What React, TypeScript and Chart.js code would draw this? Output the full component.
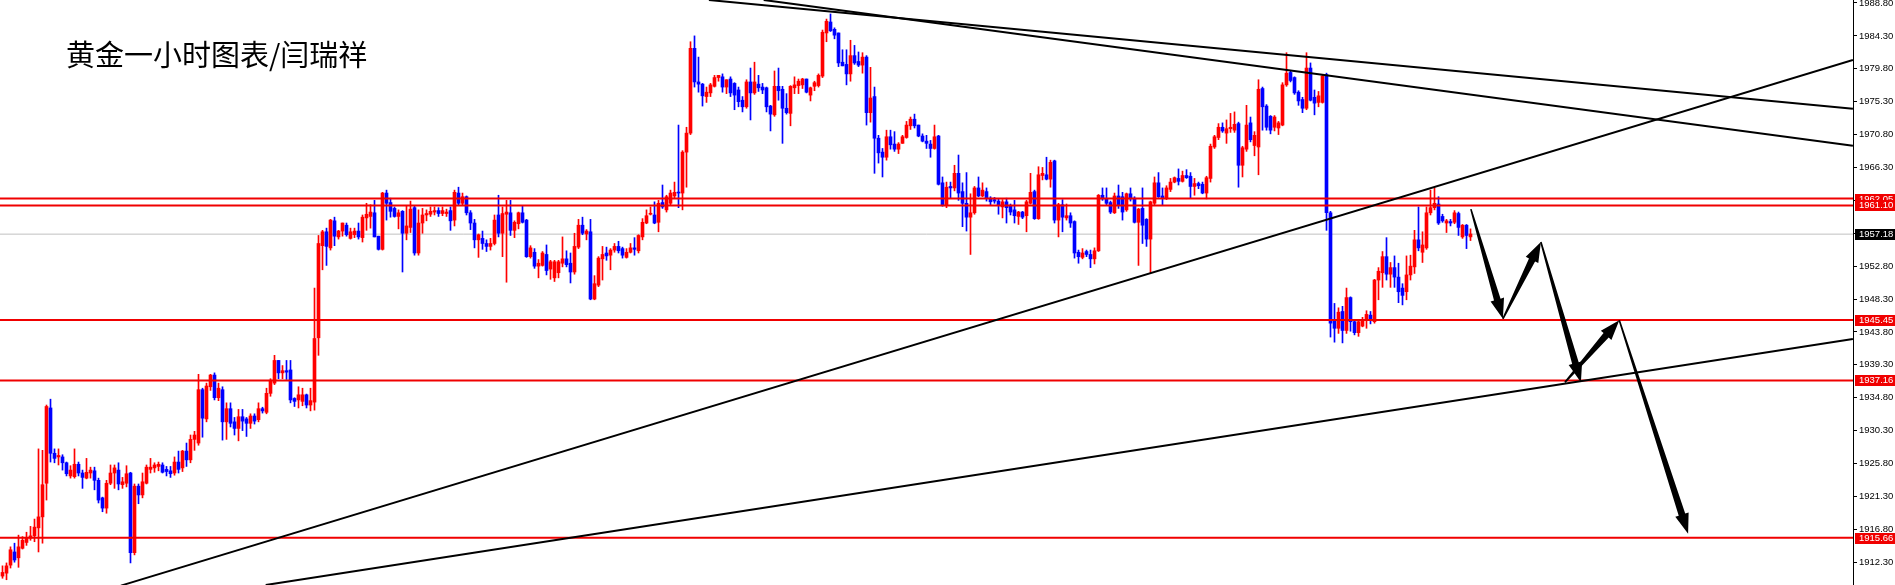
import React, { useEffect, useRef } from 'react';
import { Chart, registerables } from 'chart.js';

Chart.register(...registerables);

// Hourly XAUUSD candles (one entry per hour, oldest first)
const opens = [
  1910.4, 1910.8, 1911.9, 1913.7, 1912.9, 1914.2, 1915.0, 1915.6, 1915.9, 1917.0,
  1918.5, 1923.1, 1933.4, 1927.2, 1926.7, 1926.7, 1925.9, 1924.1, 1924.0, 1925.7,
  1924.5, 1923.8, 1924.5, 1924.8, 1923.5, 1921.1, 1919.7, 1923.1, 1924.5, 1924.9,
  1922.9, 1923.1, 1924.5, 1913.6, 1922.7, 1921.5, 1923.1, 1925.0, 1925.2, 1925.4,
  1925.6, 1925.0, 1924.8, 1924.5, 1926.0, 1925.2, 1927.5, 1926.3, 1929.1, 1928.6,
  1935.9, 1931.9, 1936.3, 1937.9, 1934.8, 1935.9, 1931.5, 1933.3, 1931.5, 1930.6,
  1932.2, 1931.9, 1931.3, 1932.3, 1931.8, 1933.3, 1932.8, 1935.4, 1936.8, 1939.9,
  1938.2, 1938.5, 1938.6, 1934.7, 1934.5, 1934.3, 1935.2, 1933.8, 1934.2, 1943.0,
  1955.6, 1957.5, 1955.3, 1959.0, 1956.8, 1957.6, 1958.4, 1956.6, 1957.1, 1957.6,
  1956.7, 1959.4, 1959.6, 1960.1, 1956.9, 1955.1, 1962.8, 1961.5, 1960.7, 1959.6,
  1960.3, 1957.3, 1958.1, 1960.8, 1954.6, 1958.7, 1959.8, 1959.9, 1960.2, 1960.4,
  1960.0, 1960.0, 1960.4, 1959.1, 1962.8, 1961.4, 1962.3, 1960.1, 1958.7, 1956.4,
  1956.6, 1955.9, 1955.5, 1955.9, 1959.8, 1957.3, 1959.9, 1960.1, 1957.7, 1958.6,
  1960.1, 1959.1, 1954.1, 1954.7, 1952.8, 1952.9, 1954.4, 1952.4, 1951.2, 1951.9,
  1953.2, 1953.8, 1953.2, 1952.0, 1955.4, 1958.4, 1957.2, 1957.5, 1948.3, 1950.2,
  1953.8, 1954.6, 1954.3, 1955.0, 1955.5, 1955.2, 1954.0, 1954.7, 1955.3, 1954.9,
  1956.8, 1958.7, 1959.9, 1959.8, 1958.8, 1961.5, 1960.5, 1961.4, 1962.4, 1962.9,
  1962.8, 1968.4, 1971.0, 1982.6, 1978.0, 1977.7, 1976.0, 1976.5, 1977.4, 1978.6,
  1978.7, 1977.3, 1978.4, 1977.8, 1976.9, 1975.5, 1974.6, 1978.0, 1976.5, 1977.7,
  1977.3, 1977.2, 1974.7, 1973.5, 1977.4, 1977.0, 1974.4, 1973.7, 1977.2, 1977.5,
  1977.6, 1978.4, 1976.2, 1977.4, 1977.5, 1978.8, 1984.7, 1986.2, 1985.2, 1984.7,
  1980.7, 1980.4, 1979.1, 1981.6, 1980.8, 1980.3, 1981.4, 1973.8, 1976.0, 1970.3,
  1968.4, 1967.7, 1970.5, 1969.5, 1968.8, 1969.6, 1970.4, 1972.0, 1972.9, 1972.1,
  1970.6, 1969.9, 1969.5, 1968.9, 1970.6, 1964.2, 1961.2, 1963.7, 1963.5, 1965.5,
  1963.0, 1961.4, 1959.5, 1960.1, 1963.5, 1962.4, 1963.0, 1962.1, 1961.9, 1961.7,
  1960.9, 1961.6, 1961.0, 1960.5, 1959.6, 1960.2, 1959.7, 1961.4, 1963.0, 1959.3,
  1965.2, 1965.3, 1964.7, 1967.2, 1959.1, 1961.2, 1959.4, 1959.7, 1958.9, 1954.7,
  1954.0, 1954.8, 1954.4, 1953.8, 1954.9, 1962.5, 1962.0, 1961.5, 1960.1, 1962.4,
  1962.3, 1960.5, 1962.7, 1962.1, 1958.8, 1960.7, 1959.2, 1956.5, 1961.4, 1964.2,
  1962.4, 1962.1, 1963.3, 1964.3, 1964.8, 1964.4, 1965.2, 1965.1, 1963.7, 1964.1,
  1964.0, 1962.8, 1964.8, 1969.1, 1970.4, 1971.8, 1971.0, 1971.6, 1971.4, 1972.3,
  1966.6, 1968.8, 1972.4, 1969.3, 1969.1, 1977.1, 1974.7, 1973.3, 1971.8, 1971.7,
  1972.1, 1977.6, 1979.3, 1978.6, 1976.6, 1975.6, 1974.4, 1979.9, 1975.9, 1975.2,
  1975.2, 1979.0, 1960.1, 1945.4, 1944.3, 1946.6, 1944.0, 1948.5, 1945.2, 1943.7,
  1944.6, 1945.4, 1946.1, 1945.2, 1950.9, 1951.9, 1954.1, 1951.7, 1952.6, 1951.3,
  1949.8, 1949.3, 1951.6, 1952.7, 1956.4, 1954.7, 1955.3, 1960.1, 1960.8, 1961.3,
  1959.6, 1958.7, 1958.9, 1958.8, 1960.0, 1956.8, 1958.4, 1956.8,
];

const highs = [
  1911.8, 1912.2, 1914.4, 1914.9, 1916.0, 1915.8, 1916.4, 1917.2, 1918.2, 1927.8,
  1927.6, 1933.8, 1934.6, 1927.8, 1927.8, 1927.0, 1926.0, 1925.5, 1927.8, 1926.0,
  1924.9, 1926.5, 1925.3, 1925.3, 1923.8, 1921.2, 1923.5, 1925.6, 1925.6, 1925.9,
  1923.9, 1925.5, 1924.6, 1923.0, 1923.0, 1924.5, 1925.6, 1926.5, 1925.9, 1926.0,
  1925.9, 1925.4, 1925.4, 1926.7, 1927.5, 1927.6, 1928.6, 1929.7, 1930.2, 1938.0,
  1936.1, 1936.8, 1938.0, 1938.2, 1936.8, 1936.3, 1934.1, 1934.1, 1932.1, 1933.2,
  1933.2, 1932.1, 1932.6, 1932.6, 1934.1, 1933.5, 1936.1, 1937.4, 1940.6, 1939.9,
  1939.2, 1939.9, 1939.9, 1934.8, 1936.3, 1936.1, 1935.3, 1936.1, 1949.8, 1957.0,
  1957.7, 1958.0, 1959.2, 1959.5, 1957.7, 1958.7, 1958.7, 1958.0, 1958.0, 1958.7,
  1959.8, 1961.4, 1961.2, 1961.8, 1956.9, 1962.9, 1963.2, 1962.1, 1960.9, 1960.5,
  1960.4, 1961.1, 1961.7, 1961.0, 1960.5, 1960.7, 1960.5, 1960.9, 1960.9, 1960.8,
  1960.9, 1960.6, 1960.9, 1963.2, 1963.6, 1962.8, 1962.4, 1960.4, 1959.2, 1957.2,
  1957.6, 1956.4, 1956.6, 1959.8, 1962.5, 1960.9, 1961.8, 1961.8, 1959.0, 1960.2,
  1961.0, 1959.2, 1955.6, 1955.2, 1953.7, 1954.8, 1955.7, 1953.6, 1953.6, 1953.6,
  1956.8, 1954.9, 1954.6, 1957.3, 1959.2, 1959.5, 1957.8, 1959.2, 1951.5, 1954.1,
  1955.5, 1955.4, 1955.2, 1955.9, 1956.2, 1955.4, 1955.2, 1955.9, 1956.7, 1957.1,
  1959.3, 1960.5, 1960.9, 1961.6, 1961.8, 1963.9, 1962.5, 1963.2, 1964.3, 1972.1,
  1968.6, 1971.8, 1983.5, 1984.3, 1981.4, 1977.8, 1977.3, 1977.8, 1978.9, 1978.9,
  1979.1, 1978.3, 1978.7, 1977.9, 1977.3, 1976.0, 1978.3, 1979.9, 1980.7, 1978.9,
  1977.8, 1977.3, 1974.8, 1979.5, 1979.9, 1977.4, 1976.4, 1977.5, 1978.7, 1978.4,
  1978.5, 1978.4, 1977.3, 1978.1, 1979.1, 1985.1, 1986.6, 1987.3, 1985.4, 1984.7,
  1982.4, 1982.4, 1983.7, 1983.0, 1982.1, 1982.0, 1981.6, 1980.0, 1977.3, 1970.7,
  1968.9, 1971.4, 1971.4, 1971.2, 1969.7, 1970.7, 1972.6, 1973.2, 1973.6, 1972.1,
  1970.9, 1970.7, 1970.0, 1972.1, 1970.7, 1965.0, 1964.3, 1964.3, 1966.6, 1968.0,
  1964.2, 1965.6, 1962.7, 1963.7, 1965.0, 1964.2, 1963.5, 1962.3, 1962.2, 1962.0,
  1961.9, 1962.1, 1961.3, 1961.8, 1960.3, 1960.3, 1961.8, 1965.5, 1963.2, 1966.4,
  1966.3, 1967.7, 1967.3, 1967.3, 1961.4, 1961.9, 1961.3, 1960.1, 1959.0, 1955.0,
  1955.2, 1955.0, 1955.0, 1955.3, 1962.6, 1963.5, 1963.5, 1961.7, 1962.8, 1963.9,
  1962.9, 1962.8, 1963.5, 1962.3, 1960.7, 1963.5, 1959.3, 1961.7, 1965.0, 1965.6,
  1963.5, 1963.8, 1964.8, 1965.0, 1966.1, 1965.8, 1966.0, 1965.6, 1964.8, 1964.3,
  1964.3, 1965.1, 1969.5, 1970.7, 1972.3, 1972.4, 1972.8, 1973.7, 1973.9, 1972.5,
  1969.2, 1974.8, 1973.2, 1971.2, 1978.3, 1977.3, 1974.9, 1973.4, 1973.4, 1972.6,
  1977.9, 1982.0, 1979.5, 1978.7, 1976.8, 1975.9, 1982.0, 1980.6, 1976.9, 1976.7,
  1979.0, 1979.2, 1960.3, 1947.7, 1947.1, 1947.3, 1949.8, 1948.6, 1945.3, 1945.3,
  1945.8, 1946.7, 1946.6, 1951.0, 1952.6, 1954.8, 1956.7, 1953.3, 1954.2, 1953.2,
  1950.4, 1954.2, 1954.3, 1957.7, 1960.9, 1957.5, 1960.9, 1963.2, 1963.5, 1962.3,
  1959.9, 1959.2, 1959.2, 1960.4, 1960.2, 1958.5, 1958.5, 1957.9,
];

const lows = [
  1910.1, 1909.9, 1911.5, 1912.3, 1911.6, 1914.1, 1914.6, 1915.3, 1915.1, 1913.7,
  1914.9, 1920.8, 1926.0, 1925.9, 1925.6, 1924.9, 1924.1, 1923.8, 1923.8, 1924.1,
  1922.4, 1923.7, 1923.8, 1922.2, 1920.4, 1919.2, 1919.0, 1922.9, 1922.4, 1922.2,
  1922.4, 1922.6, 1912.2, 1913.3, 1920.3, 1921.1, 1923.0, 1924.5, 1924.6, 1924.8,
  1924.5, 1924.1, 1923.9, 1924.2, 1924.5, 1924.7, 1925.4, 1925.9, 1927.6, 1928.3,
  1929.4, 1931.5, 1935.8, 1934.5, 1934.4, 1929.0, 1929.1, 1930.8, 1929.7, 1928.9,
  1930.3, 1929.5, 1930.6, 1931.2, 1931.5, 1932.7, 1932.6, 1935.0, 1936.6, 1937.4,
  1937.4, 1937.3, 1934.1, 1933.6, 1933.4, 1933.7, 1933.4, 1933.0, 1933.1, 1940.6,
  1952.3, 1952.9, 1955.0, 1955.6, 1956.5, 1956.9, 1956.9, 1956.5, 1956.7, 1956.5,
  1956.1, 1957.7, 1958.0, 1956.8, 1955.0, 1955.0, 1959.1, 1959.5, 1959.5, 1957.9,
  1952.0, 1956.4, 1957.4, 1954.3, 1954.3, 1957.3, 1959.0, 1959.6, 1959.8, 1959.6,
  1959.7, 1959.6, 1957.7, 1958.3, 1961.2, 1961.2, 1959.8, 1957.8, 1955.3, 1954.0,
  1955.1, 1954.8, 1955.0, 1955.7, 1956.8, 1954.1, 1950.6, 1957.0, 1956.7, 1957.9,
  1958.7, 1954.0, 1953.9, 1952.5, 1951.2, 1952.8, 1951.6, 1951.0, 1950.7, 1951.2,
  1952.7, 1952.7, 1950.5, 1951.7, 1955.2, 1957.1, 1956.4, 1948.2, 1948.2, 1950.0,
  1950.9, 1953.6, 1952.3, 1954.7, 1954.6, 1953.9, 1953.9, 1954.6, 1954.3, 1954.6,
  1956.4, 1958.6, 1959.8, 1958.6, 1957.5, 1960.7, 1960.2, 1961.2, 1962.1, 1960.8,
  1960.5, 1963.6, 1970.8, 1977.3, 1976.6, 1974.7, 1975.2, 1976.0, 1977.3, 1978.1,
  1976.6, 1976.4, 1976.0, 1974.2, 1974.6, 1973.9, 1974.4, 1972.8, 1976.3, 1976.7,
  1976.4, 1973.9, 1971.3, 1973.3, 1975.5, 1969.6, 1973.6, 1972.0, 1976.4, 1976.4,
  1977.1, 1976.5, 1975.4, 1976.8, 1977.3, 1978.6, 1983.5, 1984.9, 1983.9, 1980.1,
  1980.2, 1977.6, 1978.1, 1980.4, 1980.1, 1979.2, 1972.1, 1972.5, 1965.5, 1966.9,
  1965.0, 1967.3, 1968.8, 1968.5, 1968.2, 1969.6, 1970.3, 1971.5, 1971.7, 1970.5,
  1969.8, 1968.9, 1967.7, 1968.8, 1963.9, 1961.0, 1960.8, 1962.1, 1963.1, 1961.8,
  1958.2, 1957.6, 1954.4, 1959.9, 1962.3, 1962.3, 1961.7, 1961.2, 1961.4, 1959.9,
  1959.4, 1958.7, 1959.8, 1958.7, 1958.5, 1959.3, 1957.5, 1961.3, 1959.2, 1959.2,
  1964.6, 1964.6, 1963.6, 1958.7, 1956.8, 1957.5, 1959.1, 1958.1, 1953.9, 1953.2,
  1953.8, 1954.1, 1952.6, 1953.1, 1954.8, 1961.8, 1961.1, 1960.0, 1960.0, 1960.7,
  1959.1, 1960.3, 1961.7, 1958.7, 1952.9, 1955.9, 1955.5, 1951.9, 1961.2, 1962.2,
  1961.2, 1961.9, 1963.0, 1964.2, 1963.9, 1964.3, 1964.8, 1962.1, 1962.5, 1963.4,
  1962.7, 1962.0, 1964.3, 1968.9, 1970.1, 1971.1, 1969.6, 1971.1, 1971.1, 1963.6,
  1965.0, 1968.5, 1969.8, 1967.9, 1965.3, 1971.4, 1971.4, 1970.9, 1971.3, 1970.8,
  1972.0, 1977.4, 1978.0, 1976.3, 1974.8, 1973.8, 1974.2, 1975.4, 1973.5, 1974.6,
  1975.1, 1957.7, 1943.1, 1942.4, 1943.6, 1942.3, 1943.6, 1943.9, 1943.4, 1943.2,
  1944.5, 1944.3, 1944.9, 1945.0, 1948.2, 1949.9, 1950.9, 1949.9, 1949.9, 1947.8,
  1947.5, 1948.2, 1950.9, 1951.8, 1954.9, 1953.3, 1955.1, 1959.8, 1960.5, 1958.5,
  1958.8, 1957.4, 1958.3, 1958.6, 1957.0, 1956.6, 1955.2, 1956.3,
];

const closes = [
  1910.9, 1911.8, 1914.0, 1912.6, 1914.4, 1915.3, 1915.7, 1915.9, 1917.1, 1918.5,
  1922.9, 1933.6, 1927.2, 1926.5, 1926.9, 1925.9, 1924.4, 1924.9, 1925.7, 1924.5,
  1923.9, 1924.6, 1924.9, 1923.5, 1920.8, 1919.7, 1923.1, 1924.5, 1925.2, 1923.0,
  1923.3, 1924.4, 1913.6, 1922.7, 1921.5, 1923.3, 1925.3, 1925.3, 1925.6, 1925.7,
  1924.6, 1924.7, 1924.4, 1926.0, 1925.0, 1927.5, 1926.3, 1929.1, 1929.7, 1935.9,
  1932.0, 1936.4, 1937.9, 1934.8, 1936.1, 1931.5, 1933.3, 1931.3, 1930.6, 1932.2,
  1931.6, 1931.3, 1932.3, 1931.6, 1933.3, 1933.0, 1935.4, 1937.2, 1939.9, 1938.2,
  1938.5, 1938.3, 1934.5, 1934.3, 1935.2, 1935.2, 1933.8, 1934.4, 1942.9, 1955.9,
  1957.5, 1955.5, 1959.1, 1956.9, 1957.6, 1958.7, 1957.1, 1957.5, 1957.6, 1956.8,
  1959.5, 1959.9, 1960.2, 1956.8, 1955.1, 1962.8, 1961.4, 1960.3, 1959.6, 1960.1,
  1957.3, 1958.3, 1960.6, 1954.6, 1958.7, 1959.8, 1960.0, 1960.3, 1960.4, 1960.0,
  1960.4, 1960.2, 1959.0, 1962.9, 1961.4, 1962.3, 1960.1, 1958.7, 1956.4, 1957.1,
  1955.9, 1955.5, 1955.9, 1959.1, 1957.3, 1960.0, 1960.2, 1957.7, 1958.8, 1960.1,
  1958.8, 1954.1, 1955.3, 1952.8, 1953.2, 1954.6, 1952.2, 1953.4, 1953.4, 1953.4,
  1953.8, 1953.0, 1952.0, 1955.5, 1958.4, 1957.3, 1957.6, 1948.3, 1950.4, 1953.9,
  1954.4, 1954.2, 1955.0, 1955.5, 1954.9, 1954.3, 1954.7, 1955.3, 1955.1, 1957.0,
  1958.8, 1959.7, 1960.0, 1958.7, 1961.4, 1960.9, 1962.3, 1962.8, 1962.9, 1962.8,
  1968.4, 1971.0, 1982.6, 1978.0, 1977.7, 1976.1, 1976.6, 1977.6, 1978.6, 1978.9,
  1977.3, 1978.3, 1976.5, 1976.2, 1975.3, 1974.6, 1978.0, 1976.5, 1978.0, 1977.2,
  1976.9, 1974.6, 1973.6, 1977.4, 1976.8, 1974.4, 1973.8, 1977.4, 1977.6, 1978.1,
  1978.4, 1976.6, 1977.2, 1977.9, 1978.9, 1984.8, 1986.3, 1985.0, 1984.4, 1980.6,
  1980.2, 1979.1, 1981.6, 1980.6, 1980.3, 1981.4, 1973.8, 1975.8, 1970.3, 1968.3,
  1967.7, 1970.5, 1969.4, 1968.8, 1969.5, 1970.5, 1972.1, 1972.9, 1972.0, 1970.6,
  1969.9, 1969.6, 1968.9, 1970.5, 1964.0, 1961.2, 1963.6, 1963.5, 1965.5, 1962.8,
  1961.4, 1959.5, 1960.1, 1963.5, 1962.4, 1963.2, 1962.1, 1961.6, 1961.7, 1961.1,
  1961.6, 1960.8, 1960.2, 1959.7, 1960.2, 1959.5, 1961.6, 1962.9, 1959.3, 1965.3,
  1965.5, 1964.7, 1967.0, 1959.1, 1961.2, 1959.5, 1959.7, 1958.7, 1954.6, 1954.1,
  1954.6, 1954.4, 1953.8, 1954.9, 1962.5, 1962.0, 1961.4, 1960.2, 1962.4, 1961.2,
  1960.2, 1962.7, 1962.0, 1958.8, 1960.6, 1958.4, 1956.5, 1961.6, 1964.2, 1962.3,
  1962.1, 1963.5, 1964.3, 1964.9, 1964.4, 1965.2, 1964.9, 1963.7, 1964.1, 1963.8,
  1962.8, 1964.9, 1969.2, 1970.5, 1971.8, 1971.3, 1971.6, 1971.8, 1972.2, 1966.6,
  1969.0, 1972.1, 1970.1, 1970.7, 1977.0, 1974.6, 1971.8, 1971.4, 1973.2, 1972.4,
  1977.6, 1979.2, 1978.2, 1976.5, 1975.4, 1974.4, 1979.9, 1975.5, 1975.1, 1976.1,
  1978.8, 1960.1, 1945.0, 1944.3, 1946.5, 1944.0, 1948.5, 1945.2, 1943.7, 1945.2,
  1945.3, 1946.2, 1945.4, 1950.9, 1952.1, 1954.1, 1951.7, 1952.6, 1951.3, 1949.3,
  1948.8, 1951.6, 1952.8, 1956.4, 1955.3, 1955.7, 1960.1, 1960.8, 1961.4, 1958.7,
  1959.0, 1959.0, 1958.7, 1960.1, 1958.1, 1958.4, 1957.0, 1957.2,
];

// Price axis labels
const priceTicks = [
  1988.8, 1984.3, 1979.8, 1975.3, 1970.8, 1966.3, 1961.8, 1957.3, 1952.8,
  1948.3, 1943.8, 1939.3, 1934.8, 1930.3, 1925.8, 1921.3, 1916.8, 1912.3,
];

// Horizontal support / resistance levels
const levelPrices = [1962.05, 1961.1, 1945.45, 1937.16, 1915.66];
const bidPrice = 1957.18;

// Trend lines: start bar, start price, end bar, end price
const trendStartBar = [176.6, 190.3, 29.6, 65.8];
const trendStartPrice = [1989.21, 1989.21, 1909.1, 1909.18];
const trendEndBar = [462.6, 462.6, 462.6, 462.6];
const trendEndPrice = [1974.34, 1969.28, 1981.0, 1942.83];

// Projected path arrows (bar index / price)
const arrowFromBar = [367.1, 375.1, 384.6, 390.6, 404.2];
const arrowFromPrice = [1960.6, 1945.6, 1956.1, 1936.9, 1945.4];
const arrowToBar = [375.1, 384.6, 394.6, 404.2, 421.4];
const arrowToPrice = [1945.6, 1956.1, 1936.9, 1945.4, 1916.2];

const TITLE = '黄金一小时图表/闫瑞祥';

const UP = '#ff0000';
const DOWN = '#0000ff';
const LEVEL = '#f00000';
const AXIS_FONT = "'Liberation Sans', Arial, sans-serif";
const AXIS_SIZE = 9.5;

const X_MIN = -0.625;
const X_MAX = 462.625;
const Y_MIN = 1909.18;
const Y_MAX = 1989.21;

function drawArrow(ctx: CanvasRenderingContext2D, x0: number, y0: number, x1: number, y1: number) {
  const dx = x1 - x0;
  const dy = y1 - y0;
  const len = Math.hypot(dx, dy);
  const ux = dx / len;
  const uy = dy / len;
  const nx = -uy;
  const ny = ux;
  const headLen = 20;
  const headHalf = 7;
  const startHalf = 0.8;
  const neckHalf = 3.4;
  const bx = x1 - ux * headLen;
  const by = y1 - uy * headLen;
  ctx.beginPath();
  ctx.moveTo(x0 + nx * startHalf, y0 + ny * startHalf);
  ctx.lineTo(bx + nx * neckHalf, by + ny * neckHalf);
  ctx.lineTo(bx + nx * headHalf, by + ny * headHalf);
  ctx.lineTo(x1, y1);
  ctx.lineTo(bx - nx * headHalf, by - ny * headHalf);
  ctx.lineTo(bx - nx * neckHalf, by - ny * neckHalf);
  ctx.lineTo(x0 - nx * startHalf, y0 - ny * startHalf);
  ctx.closePath();
  ctx.fill();
}

const overlayPlugin = {
  id: 'overlay',
  afterDatasetsDraw(chart: any) {
    const { ctx, scales, chartArea } = chart;
    ctx.save();
    ctx.beginPath();
    ctx.rect(chartArea.left, chartArea.top, chartArea.right - chartArea.left, chartArea.bottom - chartArea.top);
    ctx.clip();
    ctx.fillStyle = '#000';
    for (let k = 0; k < arrowFromBar.length; k++) {
      drawArrow(
        ctx,
        scales.x.getPixelForValue(arrowFromBar[k]),
        scales.y.getPixelForValue(arrowFromPrice[k]),
        scales.x.getPixelForValue(arrowToBar[k]),
        scales.y.getPixelForValue(arrowToPrice[k]),
      );
    }
    ctx.restore();
  },
  afterDraw(chart: any) {
    const { ctx, scales, chartArea, width } = chart;
    const tag = (value: number, bg: string) => {
      const y = Math.round(scales.y.getPixelForValue(value));
      ctx.fillStyle = bg;
      ctx.fillRect(chartArea.right + 2, y - 5, width - chartArea.right - 2, 11);
      ctx.fillStyle = '#ffffff';
      ctx.font = `${AXIS_SIZE}px ${AXIS_FONT}`;
      ctx.textBaseline = 'middle';
      ctx.textAlign = 'left';
      ctx.fillText(value.toFixed(2), chartArea.right + 6, y + 0.5);
    };
    ctx.save();
    levelPrices.forEach((v) => tag(v, LEVEL));
    tag(bidPrice, '#000000');
    ctx.restore();
  },
};

export default function App() {
  const canvasRef = useRef<HTMLCanvasElement | null>(null);

  useEffect(() => {
    const canvas = canvasRef.current;
    if (!canvas) return;

    const colors = opens.map((o, i) => (closes[i] >= o ? UP : DOWN));
    const wickData = opens.map((_, i) => ({ x: i, y: [lows[i], highs[i]] }));
    const bodyData = opens.map((o, i) => ({ x: i, y: [o, closes[i]] }));

    const hLine = (price: number) => [
      { x: X_MIN, y: price },
      { x: X_MAX, y: price },
    ];

    const datasets: any[] = [
      {
        type: 'line',
        data: hLine(bidPrice),
        borderColor: '#c0c0c0',
        borderWidth: 1,
        pointRadius: 0,
        order: 4,
      },
      {
        type: 'bar',
        data: wickData,
        backgroundColor: colors,
        barThickness: 1,
        grouped: false,
        borderWidth: 0,
        order: 3,
      },
      {
        type: 'bar',
        data: bodyData,
        backgroundColor: colors,
        barThickness: 3,
        grouped: false,
        borderWidth: 0,
        borderSkipped: false,
        minBarLength: 1,
        order: 2,
      },
      ...levelPrices.map((p) => ({
        type: 'line',
        data: hLine(p),
        borderColor: LEVEL,
        borderWidth: 2,
        pointRadius: 0,
        order: 1,
      })),
      ...trendStartBar.map((_, k) => ({
        type: 'line',
        data: [
          { x: trendStartBar[k], y: trendStartPrice[k] },
          { x: trendEndBar[k], y: trendEndPrice[k] },
        ],
        borderColor: '#000000',
        borderWidth: 2,
        pointRadius: 0,
        order: 0,
      })),
    ];

    const chart = new Chart(canvas, {
      type: 'bar',
      data: { datasets },
      options: {
        animation: false,
        responsive: false,
        devicePixelRatio: 1,
        events: [],
        layout: { padding: 0 },
        plugins: {
          legend: { display: false },
          tooltip: { enabled: false },
          title: { display: false },
        },
        scales: {
          x: {
            type: 'linear',
            min: X_MIN,
            max: X_MAX,
            offset: false,
            display: false,
          },
          y: {
            type: 'linear',
            position: 'right',
            min: Y_MIN,
            max: Y_MAX,
            afterBuildTicks: (scale: any) => {
              scale.ticks = priceTicks.map((v) => ({ value: v }));
            },
            afterFit: (scale: any) => {
              scale.width = 42;
              scale.paddingTop = 0;
              scale.paddingBottom = 0;
            },
            ticks: {
              autoSkip: false,
              padding: 2,
              color: '#000000',
              font: { family: AXIS_FONT, size: AXIS_SIZE },
              callback: (v: any) => Number(v).toFixed(2),
            },
            grid: {
              drawOnChartArea: false,
              drawTicks: true,
              tickLength: 4,
              tickColor: '#000000',
              color: '#000000',
            },
            border: { display: true, color: '#000000', width: 1 },
          },
        },
      } as any,
      plugins: [overlayPlugin],
    });

    return () => chart.destroy();
  }, []);

  return (
    <div style={{ position: 'fixed', left: 0, top: 0, width: 1895, height: 585, background: '#ffffff' }}>
      <canvas ref={canvasRef} width={1895} height={585} style={{ display: 'block' }} />
      <div
        style={{
          position: 'absolute',
          left: 66,
          top: 39,
          fontFamily: "'Noto Sans CJK SC', sans-serif",
          fontSize: 29,
          lineHeight: '29px',
          color: '#000000',
          whiteSpace: 'nowrap',
        }}
      >
        {TITLE}
      </div>
    </div>
  );
}
